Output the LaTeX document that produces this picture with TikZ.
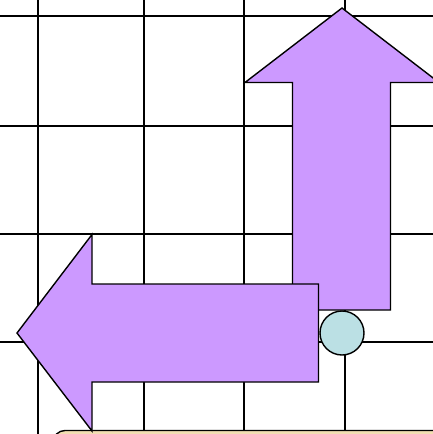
\documentclass[tikz,border=0pt]{standalone}
\begin{document}
\begin{tikzpicture}[x=1pt,y=-1pt,
  gridline/.style={line width=2pt,black},
  arrowshape/.style={fill={rgb,255:red,204;green,153;blue,255},draw=black,line width=1.4pt,line join=miter},
  knob/.style={circle,fill={rgb,255:red,187;green,224;blue,228},draw=black,line width=1.4pt,minimum size=44pt,inner sep=0pt},
  panel/.style={fill={rgb,255:red,242;green,222;blue,178},draw=black,line width=1.4pt,rounded corners=12pt}]
\useasboundingbox (0,0) rectangle (433,434);
\clip (0,0) rectangle (433,434);
% grid
\foreach \x in {37.5,144,244,345} \draw[gridline] (\x,0) -- (\x,434);
\foreach \y in {16,125.5,234,342} \draw[gridline] (0,\y) -- (433,\y);
% bottom panel
\draw[panel] (53,430.5) rectangle (470,500);
% up arrow
\draw[arrowshape] (342,8) -- (245,82.5) -- (292.5,82.5) -- (292.5,310) -- (390.5,310) -- (390.5,82.5) -- (439,82.5) -- cycle;
% left arrow
\draw[arrowshape] (17,333) -- (92,234.5) -- (92,284) -- (318.5,284) -- (318.5,382) -- (92,382) -- (92,431) -- cycle;
% circle
\node[knob] (c) at (342,333) {};
\end{tikzpicture}
\end{document}
